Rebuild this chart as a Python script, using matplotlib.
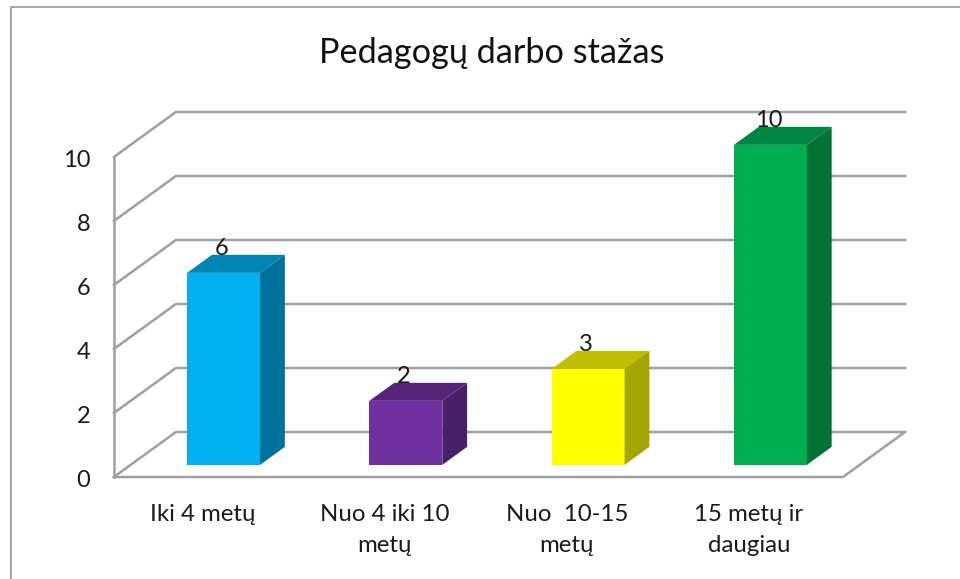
#
# Pedagogu darbo stazas - pseudo 3D column chart
#
import matplotlib
matplotlib.use('Agg')
import matplotlib.pyplot as plt
from matplotlib.patches import Polygon

plt.rcParams['font.family'] = ['Lato', 'Noto Sans', 'DejaVu Sans']

# Data
title = 'Pedagogų darbo stažas'
categories = ['Iki 4 metų', 'Nuo 4 iki 10\nmetų', 'Nuo  10-15\nmetų', '15 metų ir\ndaugiau']
values = [6, 2, 3, 10]
yticks = [0, 2, 4, 6, 8, 10]
front_colors = ['#00B0F0', '#7030A0', '#FFFF00', '#00B050']
top_colors = ['#0084B4', '#542478', '#BFBF00', '#008442']
side_colors = ['#00719B', '#482068', '#A5A500', '#007234']

# Oblique projection of the floor depth
DX, DY = 0.34, 1.406
GRID = '#A0A0A0'

def proj(x, y, d):
    return x + d * DX, y + d * DY

fig = plt.figure(figsize=(9.6, 5.79), dpi=100)
ax = fig.add_axes([0, 0, 1, 1])
ax.set_xlim(-1.125, 4.142)
ax.set_ylim(-3.1875, 14.906)
ax.axis('off')

# Outer frame
fig.add_artist(plt.Line2D([10.5/960, 10.5/960, 1], [0, 1-6.5/579, 1-6.5/579], color=GRID, lw=1.3))

# Walls and gridlines
x0, x1 = -0.5, 3.5
for t in yticks:
    bx0, by = proj(x0, t, 1)
    bx1, _ = proj(x1, t, 1)
    ax.plot([x0, bx0, bx1], [t, by, by], color=GRID, lw=1.8, solid_joinstyle='miter', zorder=1)
    ax.text(x0 - 0.13, t - 0.11, str(t), ha='right', va='center', fontsize=17, color='#1a1a1a')
ax.plot([x0, x0], [0, yticks[-1]], color=GRID, lw=1.8, zorder=1)
ax.plot([x0, x1, proj(x1, 0, 1)[0]], [0, 0, DY], color=GRID, lw=1.8, solid_joinstyle='miter', zorder=1)

# Bars
hw, d0, d1 = 0.2, 0.27, 0.67
for i, v in enumerate(values):
    c = i + 0.01
    fl = proj(c - hw, 0, d0)
    fr = proj(c + hw, 0, d0)
    ftl = proj(c - hw, v, d0)
    ftr = proj(c + hw, v, d0)
    btl = proj(c - hw, v, d1)
    btr = proj(c + hw, v, d1)
    br = proj(c + hw, 0, d1)
    ax.add_patch(Polygon([fl, fr, ftr, ftl], fc=front_colors[i], ec='none', zorder=3))
    ax.add_patch(Polygon([ftl, ftr, btr, btl], fc=top_colors[i], ec='none', zorder=3))
    ax.add_patch(Polygon([fr, br, btr, ftr], fc=side_colors[i], ec='none', zorder=3))
    # value label sits on top of the bar
    lx, ly = proj(c, v, d0)
    ax.text(lx - 0.01, ly + 0.44, str(v), ha='center', va='bottom', fontsize=17, color='#1a1a1a', zorder=4)
    ax.text(i - 0.015, -0.84, categories[i], ha='center', va='top', fontsize=17.3,
            color='#1a1a1a', linespacing=1.62)

ax.text(1.575, 13.25, title, ha='center', va='center', fontsize=24.7, color='#111111')

fig.savefig('out.png', dpi=100)
